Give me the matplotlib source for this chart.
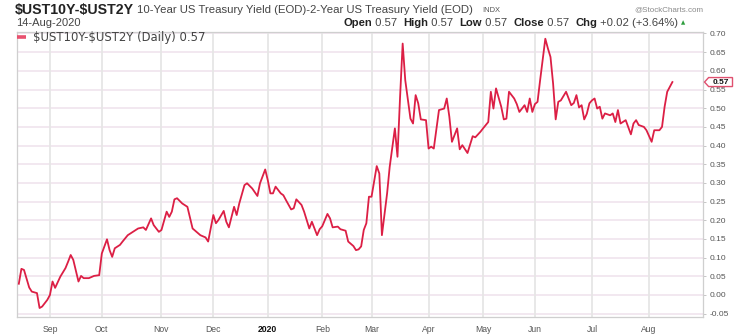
import numpy as np
import matplotlib
matplotlib.use("Agg")
import matplotlib.pyplot as plt
from matplotlib.patches import Polygon
from matplotlib.transforms import blended_transform_factory

# ---------------- data ----------------
dates = [
    "2019-08-15", "2019-08-16", "2019-08-19", "2019-08-21", "2019-08-22", "2019-08-26",
    "2019-08-27", "2019-08-28", "2019-08-30", "2019-09-03", "2019-09-04", "2019-09-05",
    "2019-09-09", "2019-09-11", "2019-09-12", "2019-09-13", "2019-09-16", "2019-09-18",
    "2019-09-19", "2019-09-20", "2019-09-24", "2019-09-26", "2019-09-30", "2019-10-01",
    "2019-10-03", "2019-10-04", "2019-10-07", "2019-10-08", "2019-10-10", "2019-10-11",
    "2019-10-15", "2019-10-17", "2019-10-21", "2019-10-23", "2019-10-24", "2019-10-28",
    "2019-10-29", "2019-10-31", "2019-11-01", "2019-11-05", "2019-11-06", "2019-11-07",
    "2019-11-08", "2019-11-11", "2019-11-13", "2019-11-15", "2019-11-19", "2019-11-22",
    "2019-11-26", "2019-11-27", "2019-12-02", "2019-12-03", "2019-12-04", "2019-12-06",
    "2019-12-09", "2019-12-10", "2019-12-12", "2019-12-13", "2019-12-16", "2019-12-18",
    "2019-12-19", "2019-12-23", "2019-12-26", "2019-12-27", "2019-12-31", "2020-01-02",
    "2020-01-03", "2020-01-06", "2020-01-07", "2020-01-09", "2020-01-10", "2020-01-13",
    "2020-01-15", "2020-01-16", "2020-01-17", "2020-01-22", "2020-01-23", "2020-01-27",
    "2020-01-28", "2020-01-30", "2020-01-31", "2020-02-03", "2020-02-05", "2020-02-06",
    "2020-02-07", "2020-02-11", "2020-02-12", "2020-02-14", "2020-02-18", "2020-02-20",
    "2020-02-21", "2020-02-24", "2020-02-25", "2020-02-26", "2020-02-27", "2020-02-28",
    "2020-03-02", "2020-03-04", "2020-03-05", "2020-03-06", "2020-03-10", "2020-03-11",
    "2020-03-13", "2020-03-16", "2020-03-17", "2020-03-18", "2020-03-19", "2020-03-23",
    "2020-03-24", "2020-03-25", "2020-03-26", "2020-03-27", "2020-03-31", "2020-04-01",
    "2020-04-02", "2020-04-03", "2020-04-07", "2020-04-09", "2020-04-13", "2020-04-14",
    "2020-04-15", "2020-04-17", "2020-04-20", "2020-04-21", "2020-04-23", "2020-04-27",
    "2020-04-28", "2020-04-30", "2020-05-01", "2020-05-05", "2020-05-06", "2020-05-07",
    "2020-05-08", "2020-05-12", "2020-05-13", "2020-05-14", "2020-05-15", "2020-05-19",
    "2020-05-20", "2020-05-21", "2020-05-26", "2020-05-27", "2020-05-28", "2020-05-29",
    "2020-06-01", "2020-06-02", "2020-06-03", "2020-06-05", "2020-06-08", "2020-06-09",
    "2020-06-10", "2020-06-11", "2020-06-12", "2020-06-15", "2020-06-17", "2020-06-19",
    "2020-06-22", "2020-06-23", "2020-06-24", "2020-06-25", "2020-06-26", "2020-06-29",
    "2020-06-30", "2020-07-01", "2020-07-02", "2020-07-06", "2020-07-07", "2020-07-08",
    "2020-07-09", "2020-07-13", "2020-07-14", "2020-07-15", "2020-07-16", "2020-07-17",
    "2020-07-21", "2020-07-23", "2020-07-24", "2020-07-27", "2020-07-28", "2020-07-30",
    "2020-07-31", "2020-08-04", "2020-08-05", "2020-08-07", "2020-08-10", "2020-08-11",
    "2020-08-12", "2020-08-14",
]
spread = [
    0.030, 0.070, 0.067, 0.020, 0.009, 0.005,
    -0.035, -0.031, -0.013, 0.000, 0.036, 0.019,
    0.049, 0.072, 0.089, 0.107, 0.094, 0.036,
    0.051, 0.045, 0.045, 0.051, 0.053, 0.111,
    0.149, 0.120, 0.102, 0.125, 0.134, 0.143,
    0.160, 0.169, 0.178, 0.181, 0.174, 0.205,
    0.187, 0.169, 0.174, 0.223, 0.209, 0.223,
    0.256, 0.259, 0.245, 0.236, 0.178, 0.160,
    0.154, 0.143, 0.214, 0.192, 0.201, 0.225,
    0.196, 0.181, 0.236, 0.214, 0.245, 0.294,
    0.299, 0.285, 0.265, 0.299, 0.336, 0.307,
    0.272, 0.272, 0.290, 0.272, 0.267, 0.254,
    0.229, 0.232, 0.256, 0.241, 0.223, 0.178,
    0.196, 0.160, 0.176, 0.184, 0.217, 0.205,
    0.181, 0.183, 0.176, 0.172, 0.143, 0.131,
    0.120, 0.122, 0.130, 0.174, 0.192, 0.263,
    0.263, 0.345, 0.325, 0.160, 0.272, 0.343,
    0.446, 0.370, 0.530, 0.673, 0.575, 0.472,
    0.459, 0.535, 0.513, 0.470, 0.468, 0.392,
    0.397, 0.392, 0.495, 0.499, 0.526, 0.477,
    0.410, 0.446, 0.390, 0.401, 0.380, 0.425,
    0.422, 0.437, 0.446, 0.463, 0.544, 0.499,
    0.553, 0.504, 0.470, 0.472, 0.544, 0.526,
    0.511, 0.490, 0.508, 0.490, 0.526, 0.490,
    0.511, 0.517, 0.575, 0.686, 0.660, 0.637,
    0.566, 0.470, 0.517, 0.521, 0.544, 0.508,
    0.514, 0.535, 0.502, 0.508, 0.470, 0.485,
    0.513, 0.521, 0.526, 0.499, 0.504, 0.472,
    0.486, 0.481, 0.486, 0.463, 0.495, 0.459,
    0.468, 0.430, 0.459, 0.468, 0.455, 0.450,
    0.441, 0.410, 0.441, 0.441, 0.450, 0.504,
    0.544, 0.570,
]
market_holidays = ["2019-09-02", "2019-11-28", "2019-12-25", "2020-01-01", "2020-01-20",
                   "2020-02-17", "2020-04-10", "2020-05-25", "2020-07-03"]
month_starts = ["2019-09-01", "2019-10-01", "2019-11-01", "2019-12-01", "2020-01-01",
                "2020-02-01", "2020-03-01", "2020-04-01", "2020-05-01", "2020-06-01",
                "2020-07-01", "2020-08-01"]
month_labels = ["Sep", "Oct", "Nov", "Dec", "2020", "Feb", "Mar", "Apr", "May", "Jun",
                "Jul", "Aug"]
y_ticks = [-0.05, 0.00, 0.05, 0.10, 0.15, 0.20, 0.25, 0.30, 0.35, 0.40, 0.45, 0.50,
           0.55, 0.60, 0.65, 0.70]
last_value = 0.57

# ---------------- layout ----------------
W, H = 750, 334
fig = plt.figure(figsize=(W / 100, H / 100), dpi=100)
fig.patch.set_facecolor("white")
ax = fig.add_axes([17 / W, 1 - 317 / H, (703 - 17) / W, (317 - 32) / H])

d = np.array(dates, dtype="datetime64[D]")
x = np.busday_count(d[0], d, holidays=market_holidays)
ms = np.busday_offset(np.array(month_starts, dtype="datetime64[D]"), 0,
                      roll="forward", holidays=market_holidays)
mx = np.busday_count(d[0], ms, holidays=market_holidays)

ax.set_xlim(-0.7, 263.8)
ax.set_ylim(-0.059, 0.704)

# grid
for t in y_ticks:
    ax.axhline(t, color="#f1e6ef", lw=1.3, zorder=0)
for m in mx:
    ax.axvline(m, color="#e6e6e6", lw=1.3, zorder=0)

ax.plot(x, spread, color="#dc1f45", lw=1.3, zorder=3, solid_joinstyle="round")

for s in ax.spines.values():
    s.set_color("#cfcfcf")
    s.set_linewidth(0.9)

ax.yaxis.tick_right()
ax.set_yticks(y_ticks)
ax.set_yticklabels([f"{t:.2f}" for t in y_ticks])
ax.tick_params(axis="y", which="both", direction="out", length=2.5, width=0.6,
               colors="#bdbdbd", labelcolor="#555555", labelsize=6, pad=2)
for lbl in ax.get_yticklabels():
    lbl.set_fontfamily("Liberation Sans")

ax.set_xticks(mx)
ax.set_xticklabels(month_labels)
ax.tick_params(axis="x", length=0, labelsize=6.2, labelcolor="#555555", pad=5.5)
for lbl in ax.get_xticklabels():
    lbl.set_fontfamily("Liberation Sans")
    if lbl.get_text() == "2020":
        lbl.set_fontweight("bold")
        lbl.set_color("#111111")

# price marker on the right axis
tr = blended_transform_factory(ax.transAxes, ax.transData)
bw = 28 / (703 - 17)
bh = 9 / 374
ax0 = 1.0 + 1.5 / (703 - 17)
poly = Polygon([(ax0, last_value), (ax0 + 0.006, last_value + bh / 2),
                (ax0 + bw, last_value + bh / 2), (ax0 + bw, last_value - bh / 2),
                (ax0 + 0.006, last_value - bh / 2)],
               closed=True, transform=tr, facecolor="white", edgecolor="#e0506f",
               lw=1.0, clip_on=False, zorder=10)
ax.add_patch(poly)
ax.text(ax0 + 0.006 + (bw - 0.006) / 2, last_value, f"{last_value:.2f}", transform=tr,
        ha="center", va="center", fontsize=6, fontweight="bold", color="#111111",
        family="Liberation Sans", zorder=11, clip_on=False)

# ---------------- header ----------------
def ftxt(px, py, s, **kw):
    kw.setdefault("family", "Liberation Sans")
    kw.setdefault("parse_math", False)
    return fig.text(px / W, 1 - py / H, s, **kw)

ftxt(15, 10, "$UST10Y-$UST2Y", fontsize=10.2, fontweight="bold", color="#222222",
     va="center")
ftxt(137, 10, "10-Year US Treasury Yield (EOD)-2-Year US Treasury Yield (EOD)",
     fontsize=8.2, color="#444444", va="center")
ftxt(482, 10.5, "INDX", fontsize=5.4, color="#555555", va="center")
ftxt(703, 10, "@StockCharts.com", fontsize=5.8, color="#8a8a8a", va="center", ha="right")
ftxt(16, 23, "14-Aug-2020", fontsize=8.0, color="#444444", va="center")

ohlc = [("Open", " 0.57  "), ("High", " 0.57  "), ("Low", " 0.57  "),
        ("Close", " 0.57  "), ("Chg", " +0.02 (+3.64%)")]
renderer = fig.canvas.get_renderer()
cx = 343
for lab, val in ohlc:
    t1 = ftxt(cx, 23, lab, fontsize=8.1, fontweight="bold", color="#222222", va="center")
    bb = t1.get_window_extent(renderer)
    cx += bb.width
    t2 = ftxt(cx, 23, val, fontsize=8.1, color="#444444", va="center")
    bb = t2.get_window_extent(renderer)
    cx += bb.width
ftxt(cx + 3, 23, "\u25b2", fontsize=4, color="#2e9e3e", va="center",
     family="DejaVu Sans")

# legend
fig.add_artist(plt.Line2D([17 / W, 26 / W], [1 - 37 / H, 1 - 37 / H],
                          color="#e8506e", lw=2.6, solid_capstyle="butt"))
ftxt(33, 37, "$UST10Y-$UST2Y (Daily) 0.57", fontsize=8.4, color="#444444",
     va="center", family="DejaVu Sans")

fig.savefig("out.png", dpi=100, facecolor="white")
